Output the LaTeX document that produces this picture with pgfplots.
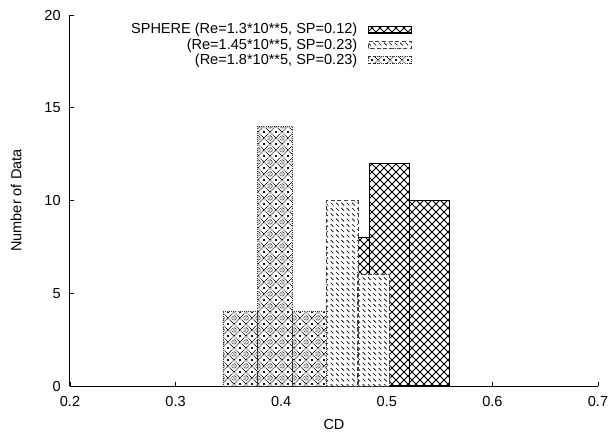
\documentclass[border=0pt]{standalone}
\usepackage{fontspec}
\setmainfont{Liberation Sans}
\usepackage{pgfplots}
\pgfplotsset{compat=1.18}
\usetikzlibrary{patterns.meta}

% crosshatch, SPHERE series
\tikzdeclarepattern{
  name=xhatch, type=uncolored,
  bottom left={(-.5pt,-.5pt)}, top right={(6.5pt,6.5pt)},
  tile size={(6pt,6pt)},
  code={\draw[line width=0.7pt] (0pt,0pt)--(6pt,6pt) (0pt,6pt)--(6pt,0pt);}
}
% dashed back-diagonals
\tikzdeclarepattern{
  name=bslash, type=uncolored,
  bottom left={(-.5pt,-.5pt)}, top right={(4.5pt,4.5pt)},
  tile size={(4pt,4pt)},
  code={\draw[line width=0.45pt] (0pt,4pt)--(3pt,1pt);}
}
% dotted diamonds with small rings
\tikzdeclarepattern{
  name=diadots, type=uncolored,
  bottom left={(-.5pt,-.5pt)}, top right={(9.5pt,9.5pt)},
  tile size={(9pt,9pt)},
  code={
    \draw[line width=0.55pt, dash pattern=on 0.6pt off 0.6pt] (0pt,4.5pt)--(4.5pt,9pt)--(9pt,4.5pt)--(4.5pt,0pt)--cycle;
    \draw[line width=0.5pt, dash pattern=on 0.5pt off 0.5pt] (4.5pt,4.5pt) circle (1.7pt);
    \fill (4.5pt,4.5pt) circle (0.5pt);
    \fill (0pt,0pt) circle (0.7pt);
    \fill (9pt,0pt) circle (0.7pt);
    \fill (0pt,9pt) circle (0.7pt);
    \fill (9pt,9pt) circle (0.7pt);
  }
}

\pgfplotsset{
  hbar/.style={ybar, bar shift=0pt, fill=white,
    legend image code/.code={\draw[##1] (0pt,-2.5pt) rectangle (32pt,2.5pt);}},
}

\begin{document}
\begin{tikzpicture}[font=\fontsize{10.9}{13}\selectfont]
\begin{axis}[
  scale only axis, width=396pt, height=278.25pt,
  xmin=0.2, xmax=0.7, ymin=0, ymax=20,
  axis x line*=bottom, axis y line*=left,
  axis line style={line width=0.75pt},
  tick align=inside, tick style={black, line width=0.6pt}, major tick length=3pt,
  xtick={0.2,0.3,0.4,0.5,0.6,0.7},
  xticklabels={0.2,0.3,0.4,0.5,0.6,0.7},
  ytick={0,5,10,15,20},
  xticklabel style={yshift=-4.5pt},
  yticklabel style={xshift=-3.5pt},
  /pgf/number format/assume math mode=true,
  xlabel={CD}, ylabel={Number of Data},
  every axis x label/.style={at={(axis description cs:0.5,-0.105)}, anchor=center},
  every axis y label/.style={at={(axis description cs:-0.102,0.5)}, rotate=90, anchor=center},
  legend plot pos=right, legend cell align=right,
  legend style={at={(axis description cs:0.6477,0.978)}, anchor=north east,
    draw=none, fill=none, inner sep=0pt, row sep=2pt, column sep=0pt,
    nodes={inner sep=0pt, outer sep=0pt},
    /tikz/every odd column/.append style={column sep=8pt}},
]
\addplot[hbar, bar width=0.0378, draw=black, line width=0.8pt, postaction={pattern=xhatch}]
  coordinates {(0.4645,8) (0.5023,12) (0.5401,10)};
\addlegendentry{SPHERE (Re=1.3*10**5, SP=0.12)}
\addplot[hbar, bar width=0.0297, draw=black!75, line width=0.6pt, densely dashed, postaction={pattern=bslash}]
  coordinates {(0.4578,10) (0.4874,6)};
\addlegendentry{(Re=1.45*10**5, SP=0.23)}
\addplot[hbar, bar width=0.0326, draw=black!80, line width=0.6pt, densely dotted, postaction={pattern=diadots}]
  coordinates {(0.3615,4) (0.3942,14) (0.4268,4)};
\addlegendentry{(Re=1.8*10**5, SP=0.23)}
\end{axis}
\pgfresetboundingbox
\path[use as bounding box] (current axis.south west) ++(-52.5pt,-34.5pt) rectangle ++(457.5pt,324pt);
\end{tikzpicture}
\end{document}
